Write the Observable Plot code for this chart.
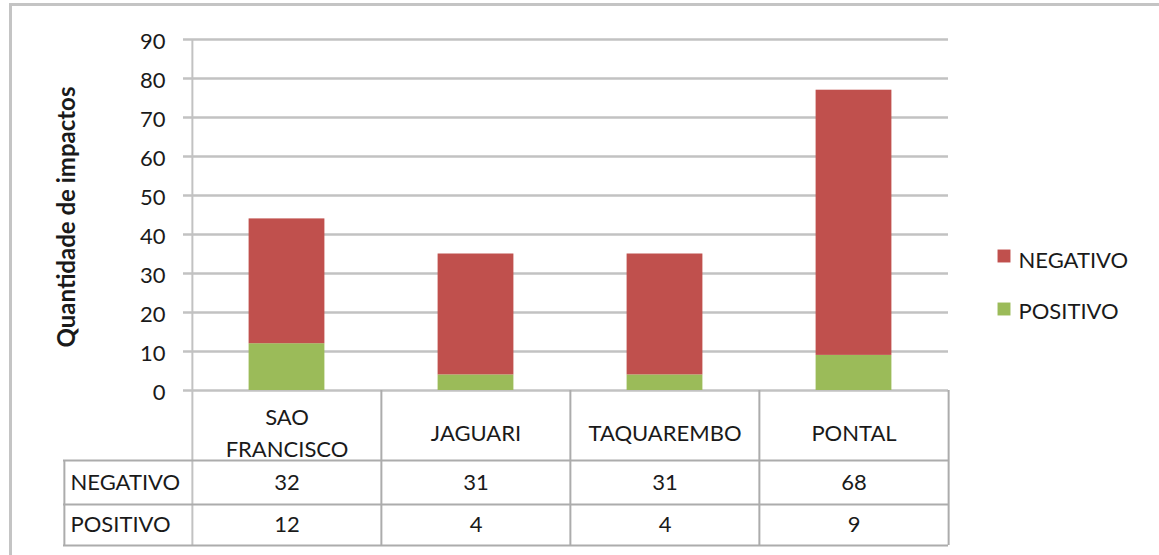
<!DOCTYPE html>
<html>
<head>
<meta charset="utf-8">
<script src="https://cdn.jsdelivr.net/npm/d3@7"></script>
<script src="https://cdn.jsdelivr.net/npm/@observablehq/plot@0.6"></script>
<style>
  html, body { margin: 0; padding: 0; background: #fff; }
  #wrap { position: relative; width: 1159px; height: 555px; overflow: hidden; }
  #border { position: absolute; left: 9px; top: 3px; width: 1200px; height: 600px;
            border-top: 3px solid #c4c4c4; border-left: 3px solid #c4c4c4; }
  #chart { position: absolute; left: 0; top: 0; }
</style>
</head>
<body>
<div id="wrap"><div id="border"></div><div id="chart"></div></div>
<script>
const regions = ["SAO FRANCISCO", "JAGUARI", "TAQUAREMBO", "PONTAL"];
const negativo = [32, 31, 31, 68];
const positivo = [12, 4, 4, 9];
const seriesNames = ["NEGATIVO", "POSITIVO"];
const seriesColors = ["#C0504D", "#9BBB59"];
const yTicks = [0, 10, 20, 30, 40, 50, 60, 70, 80, 90];
const yTitle = "Quantidade de impactos";

// Table for stacking: POSITIVO at bottom, NEGATIVO on top
const rows = [];
regions.forEach((r, i) => {
  rows.push({region: r, serie: "POSITIVO", value: positivo[i]});
  rows.push({region: r, serie: "NEGATIVO", value: negativo[i]});
});

const W = 1159, H = 555;
const mL = 191, mR = 211, mT = 39, mB = 165;
const bw = (W - mL - mR) / regions.length;
const gridColor = "#c2c2c2";
const tableColor = "#acacac";
const lw = 2;
const font = "Lato, 'Open Sans', sans-serif";
const ink = "#1a1a1a";

const tableRule = (extra) => Object.assign({stroke: tableColor, strokeWidth: lw}, extra);

const chart = Plot.plot({
  width: W, height: H,
  marginLeft: mL, marginRight: mR, marginTop: mT, marginBottom: mB,
  style: {fontFamily: font, fontSize: "22px", color: ink, background: "transparent", overflow: "visible"},
  x: {type: "band", domain: regions, padding: 0, axis: null},
  y: {domain: [0, 90], axis: null},
  color: {domain: seriesNames, range: seriesColors},
  marks: [
    // gridlines with small tick to the left
    Plot.ruleY(yTicks, {stroke: gridColor, strokeWidth: lw + 0.5, insetLeft: -8}),
    // bars
    Plot.barY(rows, {x: "region", y: "value", fill: "serie", insetLeft: 56.6, insetRight: 56.6}),
    // y tick labels
    Plot.text(yTicks, {y: d => d, text: d => String(d), frameAnchor: "left", dx: -26, dy: 2, textAnchor: "end", fill: ink}),
    // y axis title
    Plot.text([yTitle], {text: d => d, frameAnchor: "left", dx: -124, dy: 2, rotate: -90, textAnchor: "middle", fontWeight: "bold", fontSize: 24, fill: ink}),
    // vertical axis line (continues down through table)
    Plot.ruleX([regions[0]], tableRule({x: d => d, dx: -bw / 2, insetBottom: -155, stroke: gridColor})),
    // table column dividers
    Plot.ruleX(regions.slice(1), tableRule({x: d => d, dx: -bw / 2, insetTop: 351, insetBottom: -155})),
    Plot.ruleX([regions[regions.length - 1]], tableRule({x: d => d, dx: bw / 2, insetTop: 351, insetBottom: -155})),
    // row label column left edge
    Plot.ruleX([regions[0]], tableRule({x: d => d, dx: -bw / 2 - 128, insetTop: 421, insetBottom: -155})),
    // table horizontal lines
    Plot.ruleY([0], tableRule({y: d => d, dy: 70, insetLeft: -128})),
    Plot.ruleY([0], tableRule({y: d => d, dy: 114, insetLeft: -128})),
    Plot.ruleY([0], tableRule({y: d => d, dy: 155, insetLeft: -128})),
    // category header labels
    Plot.text(regions, {x: d => d, text: d => d, frameAnchor: "bottom", dy: 40, lineWidth: 6, lineHeight: 1.45, lineAnchor: "middle", fill: ink}),
    // values rows
    Plot.text(rows.filter(d => d.serie === "NEGATIVO"), {x: "region", text: d => String(d.value), frameAnchor: "bottom", dy: 92, lineAnchor: "middle", fill: ink}),
    Plot.text(rows.filter(d => d.serie === "POSITIVO"), {x: "region", text: d => String(d.value), frameAnchor: "bottom", dy: 134, lineAnchor: "middle", fill: ink}),
    // row labels
    Plot.text([seriesNames[0]], {text: d => d, frameAnchor: "bottom-left", dx: -121, dy: 92, textAnchor: "start", lineAnchor: "middle", fill: ink}),
    Plot.text([seriesNames[1]], {text: d => d, frameAnchor: "bottom-left", dx: -121, dy: 134, textAnchor: "start", lineAnchor: "middle", fill: ink}),
    // legend
    Plot.dot([seriesNames[0]], {fill: d => d, symbol: "square", r: 7.3, frameAnchor: "right", dx: 55.5, dy: 41}),
    Plot.dot([seriesNames[1]], {fill: d => d, symbol: "square", r: 7.3, frameAnchor: "right", dx: 55.5, dy: 94}),
    Plot.text([seriesNames[0]], {text: d => d, frameAnchor: "right", dx: 70, dy: 45.5, textAnchor: "start", lineAnchor: "middle", fill: ink}),
    Plot.text([seriesNames[1]], {text: d => d, frameAnchor: "right", dx: 70, dy: 96.5, textAnchor: "start", lineAnchor: "middle", fill: ink})
  ]
});
document.getElementById("chart").appendChild(chart);
</script>
</body>
</html>
